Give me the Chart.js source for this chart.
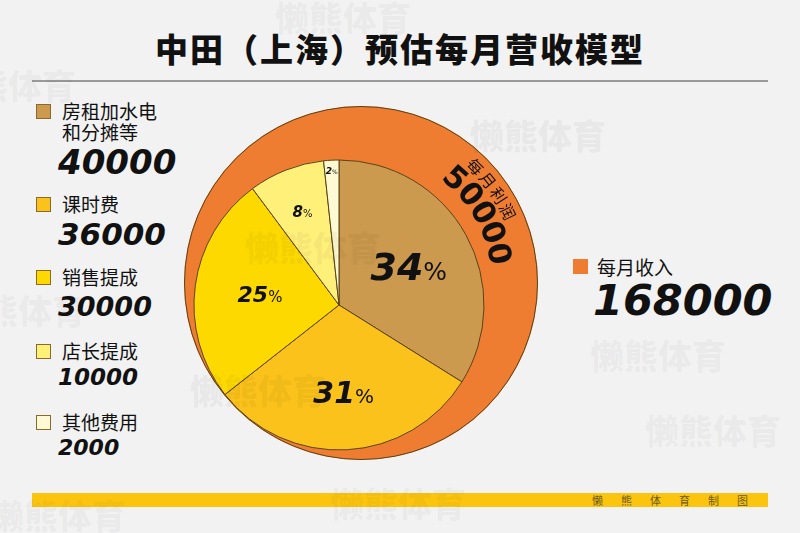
<!DOCTYPE html>
<html>
<head>
<meta charset="utf-8">
<script src="https://cdn.jsdelivr.net/npm/chart.js@4.4.0/dist/chart.umd.min.js"></script>
<style>
  html, body { margin: 0; padding: 0; }
  body { width: 800px; height: 533px; background: #f2f2f2; position: relative; overflow: hidden;
         font-family: "Noto Sans CJK SC", "Noto Sans", sans-serif; color: #111; }
  .abs { position: absolute; }
  #titulo { left: 0; width: 800px; top: 26px; text-align: center; font-size: 33px; font-weight: 900;
            letter-spacing: 2px; line-height: 44px; }
  #linha { left: 32px; top: 80px; width: 736px; height: 2px; background: #9a9a9a; }
  #faixa { left: 32px; top: 493px; width: 736px; height: 14px; background: #fbc50f; }
  #faixa span { position: absolute; left: 560px; top: 0; font-size: 11px; line-height: 14px;
                letter-spacing: 18px; color: #6d5a1c; white-space: nowrap; }
  .quad { width: 15px; height: 15px; border: 1px solid #8a6a2a; box-sizing: border-box; }
  .rotulo { font-size: 19px; line-height: 21px; width: 100px; }
  .valor { font-family: "DejaVu Sans", sans-serif; font-weight: bold; font-style: italic; white-space: nowrap; }
  .marca { color: rgba(0,0,0,0.04); font-weight: 900; font-size: 34px; white-space: nowrap;
           pointer-events: none; z-index: 10; }
  canvas { position: absolute; }
</style>
</head>
<body>
<div id="titulo" class="abs">中田（上海）预估每月营收模型</div>
<div id="linha" class="abs"></div>
<div id="legenda"></div>
<canvas id="graficoReceita" width="360" height="360" style="left:181px; top:103px;"></canvas>
<canvas id="graficoCustos" width="300" height="300" style="left:189px; top:155px;"></canvas>
<div id="faixa" class="abs"><span>懒熊体育制图</span></div>
<div id="marcas"></div>

<script>
// dados do modelo mensal
const categorias = ['房租加水电和分摊等', '课时费', '销售提成', '店长提成', '其他费用'];
const custos = [40000, 36000, 30000, 10000, 2000];
const rotuloReceita = '每月收入';
const receita = [168000];
const rotuloLucro = '每月利润';

// estilo
const cores = ['#cb9a4e', '#fac21a', '#fdd900', '#fff07a', '#fffad3'];
const corReceita = '#ee7d31';
const corBorda = '#5a4318';
const tamanhosValor = [34, 31, 27, 23, 22];
const topoRotulo = [100, 193, 266, 340, 411];
const topoValor = [142, 216, 290, 363, 434];
const raioRotulo = [0.55, 0.6, 0.55, 0.69, 0.93];
const fonteNumero = [38, 30, 22, 15, 9];

const totalCustos = custos.reduce((a, b) => a + b, 0);
const lucro = receita[0] - totalCustos;

// legenda
const legenda = document.getElementById('legenda');
categorias.forEach((nome, i) => {
  const q = document.createElement('div');
  q.className = 'abs quad';
  q.style.cssText = `left:36px; top:${topoRotulo[i] + 4}px; background:${cores[i]};`;
  legenda.appendChild(q);

  const r = document.createElement('div');
  r.className = 'abs rotulo';
  r.style.cssText = `left:62px; top:${topoRotulo[i]}px; width:${nome.length > 5 ? 100 : 120}px;`;
  r.textContent = nome;
  legenda.appendChild(r);

  const v = document.createElement('div');
  v.className = 'abs valor';
  v.style.cssText = `left:58px; top:${topoValor[i]}px; font-size:${tamanhosValor[i]}px; line-height:${tamanhosValor[i] + 6}px;`;
  v.textContent = custos[i];
  legenda.appendChild(v);
});

// legenda da receita
(() => {
  const q = document.createElement('div');
  q.className = 'abs quad';
  q.style.cssText = `left:573px; top:259px; background:${corReceita}; border-color:${corReceita};`;
  legenda.appendChild(q);
  const r = document.createElement('div');
  r.className = 'abs rotulo';
  r.style.cssText = 'left:597px; top:256px; width:150px;';
  r.textContent = rotuloReceita;
  legenda.appendChild(r);
  const v = document.createElement('div');
  v.className = 'abs valor';
  v.style.cssText = 'left:593px; top:275px; font-size:43px; line-height:50px;';
  v.textContent = receita[0];
  legenda.appendChild(v);
})();

// texto curvo no anel
function textoEmArco(ctx, texto, cx, cy, raio, inicioGraus, passoGraus, fonte) {
  ctx.save();
  ctx.font = fonte;
  ctx.fillStyle = '#111';
  ctx.textAlign = 'center';
  ctx.textBaseline = 'middle';
  [...texto].forEach((ch, i) => {
    const a = (inicioGraus + passoGraus * i) * Math.PI / 180;
    ctx.save();
    ctx.translate(cx + raio * Math.sin(a), cy - raio * Math.cos(a));
    ctx.rotate(a);
    ctx.fillText(ch, 0, 0);
    ctx.restore();
  });
  ctx.restore();
}

const pluginAnel = {
  id: 'pluginAnel',
  afterDatasetsDraw(chart) {
    const arco = chart.getDatasetMeta(0).data[0];
    const { ctx } = chart;
    // contorno do círculo
    ctx.save();
    ctx.beginPath();
    ctx.arc(arco.x, arco.y, arco.outerRadius - 0.5, 0, Math.PI * 2);
    ctx.strokeStyle = corBorda;
    ctx.lineWidth = 1;
    ctx.stroke();
    ctx.restore();
    textoEmArco(ctx, rotuloLucro, arco.x, arco.y, 163, 44.5, 6.5, '16px "Noto Sans CJK SC"');
    textoEmArco(ctx, String(lucro), arco.x, arco.y, 139, 42, 9, 'bold 31px "DejaVu Sans"');
  }
};

const pluginPercentual = {
  id: 'pluginPercentual',
  afterDatasetsDraw(chart) {
    const { ctx } = chart;
    chart.getDatasetMeta(0).data.forEach((arco, i) => {
      const meio = (arco.startAngle + arco.endAngle) / 2;
      const r = arco.outerRadius * raioRotulo[i];
      const x = arco.x + Math.cos(meio) * r;
      const y = arco.y + Math.sin(meio) * r;
      const num = String(Math.round(custos[i] / totalCustos * 100));
      const fN = fonteNumero[i];
      const fP = Math.round(fN * 0.66);
      ctx.save();
      ctx.fillStyle = '#111';
      ctx.textBaseline = 'alphabetic';
      ctx.font = `italic bold ${fN}px "DejaVu Sans"`;
      const wN = ctx.measureText(num).width;
      ctx.font = `${fP}px "DejaVu Sans"`;
      const wP = ctx.measureText('%').width;
      const left = x - (wN + wP) / 2;
      const base = y + fN * 0.36;
      ctx.font = `italic bold ${fN}px "DejaVu Sans"`;
      ctx.textAlign = 'left';
      ctx.fillText(num, left, base);
      ctx.font = `${fP}px "DejaVu Sans"`;
      ctx.fillText('%', left + wN, base);
      ctx.restore();
    });
  }
};

new Chart(document.getElementById('graficoReceita'), {
  type: 'pie',
  data: {
    labels: [rotuloReceita],
    datasets: [{ data: receita, backgroundColor: corReceita, borderWidth: 0 }]
  },
  options: {
    responsive: false,
    animation: false,
    radius: 177,
    plugins: { legend: { display: false }, tooltip: { enabled: false } }
  },
  plugins: [pluginAnel]
});

new Chart(document.getElementById('graficoCustos'), {
  type: 'pie',
  data: {
    labels: categorias,
    datasets: [{ data: custos, backgroundColor: cores, borderColor: corBorda, borderWidth: 1 }]
  },
  options: {
    responsive: false,
    animation: false,
    radius: 145,
    plugins: { legend: { display: false }, tooltip: { enabled: false } }
  },
  plugins: [pluginPercentual]
});

// marcas d'água
const marcas = [[275, -8], [-60, 60], [470, 110], [245, 222], [-50, 285], [190, 365], [590, 330], [645, 405], [-10, 490], [330, 478]];
const caixa = document.getElementById('marcas');
marcas.forEach(([x, y]) => {
  const m = document.createElement('div');
  m.className = 'abs marca';
  m.style.left = x + 'px';
  m.style.top = y + 'px';
  m.textContent = '懒熊体育';
  caixa.appendChild(m);
});
</script>
</body>
</html>
